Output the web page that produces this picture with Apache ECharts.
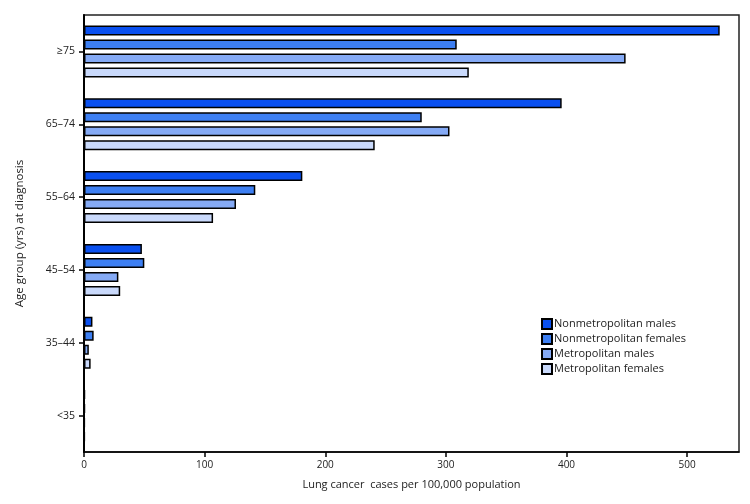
<!DOCTYPE html>
<html><head><meta charset="utf-8">
<script src="https://cdn.jsdelivr.net/npm/echarts@6/dist/echarts.min.js"></script>
<style>html,body{margin:0;padding:0;background:#fff}#c{width:750px;height:504px}</style>
</head><body><div id="c"></div>
<script>
const categories = ['<35', '35–44', '45–54', '55–64', '65–74', '≥75'];
const seriesNames = ['Nonmetropolitan males', 'Nonmetropolitan females', 'Metropolitan males', 'Metropolitan females'];
const nonmetroMales = [0.8, 7, 48, 181, 396, 527];
const nonmetroFemales = [0.8, 8, 50, 142, 280, 309];
const metroMales = [0.6, 4, 28.5, 126, 303, 449];
const metroFemales = [0.6, 5.5, 30, 107, 241, 319];
const xTicks = [0, 100, 200, 300, 400, 500];
const colors = ['#0a50f0', '#3d7ff2', '#85aaf5', '#c9d9fb'];
const seriesData = [nonmetroMales, nonmetroFemales, metroMales, metroFemales];

const chart = echarts.init(document.getElementById('c'));
const font = 'Open Sans';
chart.setOption({
  animation: false,
  grid: {left: 84, right: 11, top: 15, bottom: 52, show: true, borderColor: '#222', borderWidth: 1.5, containLabel: false},
  legend: {
    orient: 'vertical', left: 536, top: 313, itemWidth: 10, itemHeight: 10, itemGap: 3,
    data: seriesNames,
    textStyle: {fontFamily: font, fontSize: 11, color: '#222', padding: [0, 0, 0, -3]},
    icon: 'rect'
  },
  xAxis: {
    type: 'value', min: 0, max: 543, interval: 100,
    name: 'Lung cancer  cases per 100,000 population', nameLocation: 'middle', nameGap: 27,
    nameTextStyle: {fontFamily: font, fontSize: 11, color: '#222'},
    axisLine: {show: true, lineStyle: {color: '#000', width: 1.5}},
    axisTick: {show: true, length: 5, lineStyle: {color: '#000', width: 1.5}},
    axisLabel: {fontFamily: font, fontSize: 10, color: '#222', margin: 8, showMaxLabel: false,
      formatter: v => xTicks.includes(v) ? String(v) : ''},
    splitLine: {show: false}
  },
  yAxis: {
    type: 'category', data: categories,
    name: 'Age group (yrs) at diagnosis', nameLocation: 'middle', nameGap: 58, nameRotate: 90,
    nameTextStyle: {fontFamily: font, fontSize: 11.5, color: '#222'},
    axisLine: {show: true, lineStyle: {color: '#000', width: 2}},
    axisTick: {show: true, alignWithLabel: true, length: 5, lineStyle: {color: '#000', width: 1.5}},
    axisLabel: {fontFamily: font, fontSize: 10.5, color: '#222', margin: 9},
    splitLine: {show: false}
  },
  series: seriesNames.map((n, i) => ({
    name: n, type: 'bar', data: seriesData[i], barWidth: 10, barGap: '40%',
    itemStyle: {color: colors[i], borderColor: '#000', borderWidth: 1.5}
  }))
});
</script></body></html>
